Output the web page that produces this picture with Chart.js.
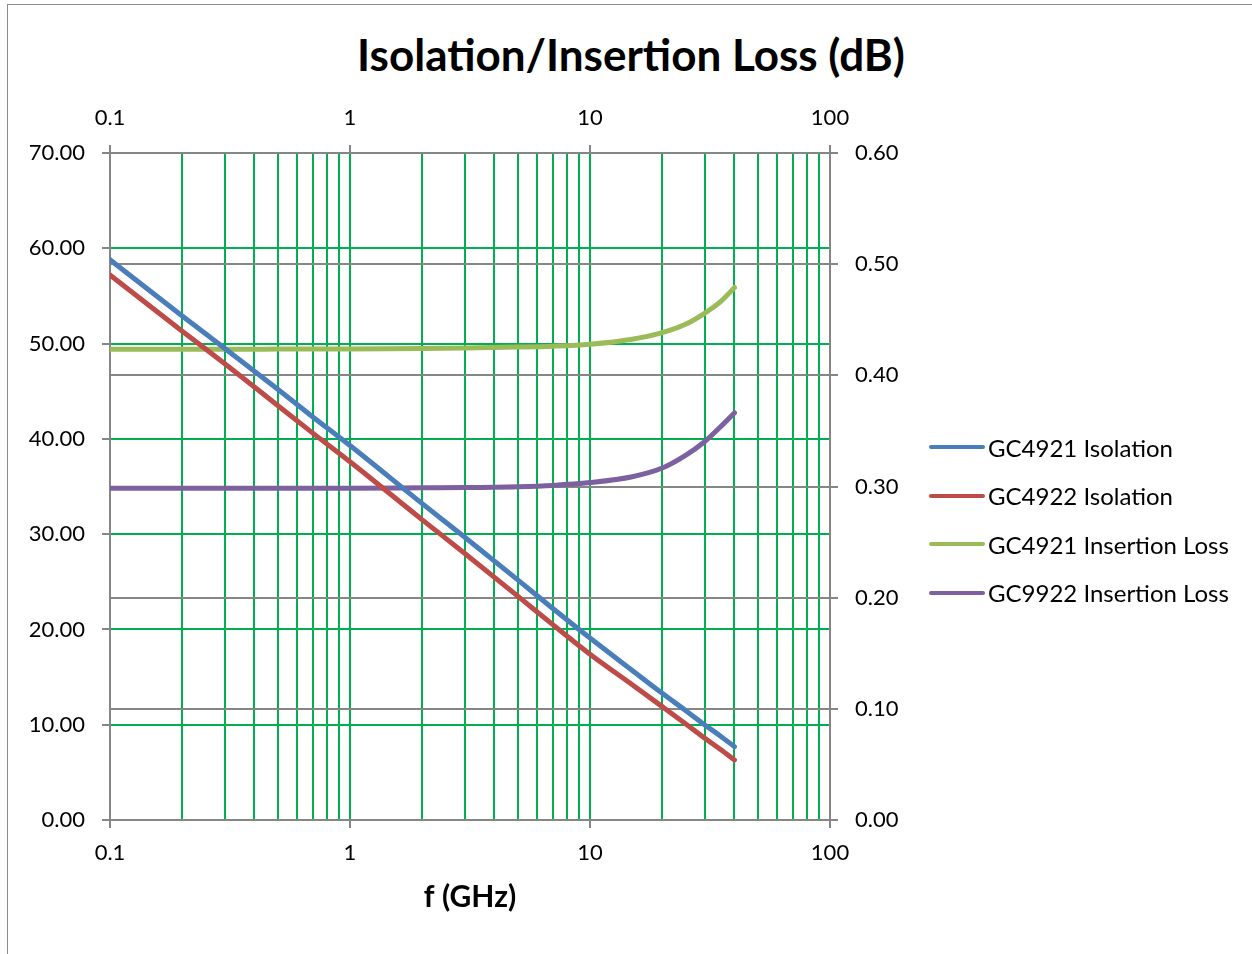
<!DOCTYPE html>
<html>
<head>
<meta charset="utf-8">
<title>Isolation/Insertion Loss (dB)</title>
<script src="https://cdn.jsdelivr.net/npm/chart.js@4.4.1/dist/chart.umd.min.js"></script>
<style>
  html, body { margin: 0; padding: 0; background: #fff; }
  #wrap { position: relative; width: 1252px; height: 954px; overflow: hidden; font-family: Lato, "Open Sans", sans-serif; }
  #frame { position: absolute; left: 7px; top: 4px; width: 1300px; height: 1000px; border: 1.5px solid #8c8c8c; }
  #title { position: absolute; left: 0; width: 1262px; top: 27px; text-align: center; font-weight: bold; font-size: 44px; line-height: 54px; color: #000; }
  #chartBox { position: absolute; left: 0; top: 0; width: 1252px; height: 954px; }
  #legend { position: absolute; left: 929px; top: 423px; }
  .lg-item { display: flex; align-items: center; height: 48.5px; font-size: 24px; color: #000; }
  .lg-line { width: 56px; height: 4px; border-radius: 2px; margin-right: 3px; }
</style>
</head>
<body>
<div id="wrap">
  <div id="frame"></div>
  <div id="title">Isolation/Insertion Loss (dB)</div>
  <div id="chartBox"><canvas id="lossChart"></canvas></div>
  <div id="legend"></div>
</div>
<script>
const freq = [0.1, 0.2, 0.3, 0.5, 0.7, 1, 2, 3, 5, 7, 10, 15, 20, 25, 30, 35, 40];

// isolation, dB (left axis)
const gc4921Isolation = [58.8, 52.9, 49.5, 45.2, 42.3, 39.3, 33.2, 29.7, 25.2, 22.2, 19.1, 15.7, 13.3, 11.5, 10.0, 8.8, 7.7];
const gc4922Isolation = [57.2, 51.3, 47.9, 43.5, 40.6, 37.6, 31.5, 28.0, 23.5, 20.5, 17.4, 14.2, 11.9, 10.1, 8.6, 7.4, 6.3];

// insertion loss, dB (right axis)
const gc4921InsLoss = [0.4235, 0.4235, 0.4235, 0.4236, 0.4237, 0.4238, 0.4242, 0.4246, 0.4254, 0.4262, 0.428, 0.4325, 0.4384, 0.4459, 0.4558, 0.4663, 0.479];
const gc9922InsLoss = [0.2985, 0.2985, 0.2985, 0.2985, 0.2985, 0.2985, 0.2988, 0.299, 0.2998, 0.301, 0.3035, 0.3088, 0.3166, 0.328, 0.3403, 0.3538, 0.3664];

const seriesNames = ['GC4921 Isolation', 'GC4922 Isolation', 'GC4921 Insertion Loss', 'GC9922 Insertion Loss'];
const seriesColors = ['#4A7EBB', '#BE4B48', '#9BBB59', '#7D60A0'];

// axis ticks
const xTicks = [0.1, 0.2, 0.3, 0.4, 0.5, 0.6, 0.7, 0.8, 0.9,
                1, 2, 3, 4, 5, 6, 7, 8, 9,
                10, 20, 30, 40, 50, 60, 70, 80, 90, 100];
const xLabels = [0.1, 1, 10, 100];
const yLeftTicks = [0, 10, 20, 30, 40, 50, 60, 70];
const yRightTicks = [0, 0.1, 0.2, 0.3, 0.4, 0.5, 0.6];

const GRAY = '#868686';
const GREEN = '#00B050';
const tickFont = { family: 'Lato', size: 22 };

function pairs(ys) {
    return freq.map((f, i) => ({ x: f, y: ys[i] }));
}

function useTicks(list) {
    return scale => { scale.ticks = list.map(v => ({ value: v })); };
}

const seriesData = [gc4921Isolation, gc4922Isolation, gc4921InsLoss, gc9922InsLoss];
const seriesAxis = ['y', 'y', 'y1', 'y1'];

const datasets = seriesData.map((ys, i) => ({
    label: seriesNames[i],
    data: pairs(ys),
    xAxisID: 'x',
    yAxisID: seriesAxis[i],
    borderColor: seriesColors[i],
    backgroundColor: seriesColors[i],
    borderWidth: 5,
    borderCapStyle: 'round',
    pointRadius: 0,
    cubicInterpolationMode: 'monotone',
    fill: false
}));

const isMajor = ctx => ctx.tick && xLabels.includes(ctx.tick.value);

new Chart(document.getElementById('lossChart'), {
    type: 'line',
    data: { datasets },
    options: {
        responsive: true,
        maintainAspectRatio: false,
        animation: false,
        layout: { padding: { left: 0, top: 93, right: 332, bottom: 39 } },
        plugins: {
            legend: { display: false },
            title: { display: false },
            tooltip: { enabled: false }
        },
        scales: {
            x: {
                type: 'logarithmic',
                position: 'bottom',
                min: 0.1,
                max: 100,
                afterBuildTicks: useTicks(xTicks),
                afterFit: s => { s.height = 95; },
                ticks: {
                    autoSkip: false,
                    maxRotation: 0,
                    padding: 12,
                    color: '#000',
                    font: tickFont,
                    callback: v => xLabels.includes(v) ? String(v) : ''
                },
                grid: {
                    color: GREEN,
                    lineWidth: 2,
                    tickLength: 8,
                    tickColor: ctx => isMajor(ctx) ? GRAY : 'rgba(0,0,0,0)'
                },
                border: { color: GRAY, width: 2 },
                title: {
                    display: true,
                    text: 'f (GHz)',
                    color: '#000',
                    padding: 0,
                    font: { family: 'Lato', size: 30, weight: 'bold' }
                }
            },
            x2: {
                type: 'logarithmic',
                position: 'top',
                min: 0.1,
                max: 100,
                afterBuildTicks: useTicks(xTicks),
                afterFit: s => { s.height = 60; },
                ticks: {
                    autoSkip: false,
                    maxRotation: 0,
                    padding: 14,
                    color: '#000',
                    font: tickFont,
                    callback: v => xLabels.includes(v) ? String(v) : ''
                },
                grid: {
                    drawOnChartArea: false,
                    tickLength: 8,
                    lineWidth: 2,
                    color: GRAY,
                    tickColor: ctx => isMajor(ctx) ? GRAY : 'rgba(0,0,0,0)'
                },
                border: { color: GRAY, width: 2 }
            },
            y: {
                type: 'linear',
                position: 'left',
                min: 0,
                max: 70,
                afterBuildTicks: useTicks(yLeftTicks),
                afterFit: s => { s.width = 110; },
                ticks: {
                    padding: 17,
                    color: '#000',
                    font: tickFont,
                    callback: v => v.toFixed(2)
                },
                grid: { color: GREEN, lineWidth: 2, tickLength: 8, tickColor: GRAY },
                border: { color: GRAY, width: 2 }
            },
            y1: {
                type: 'linear',
                position: 'right',
                min: 0,
                max: 0.6,
                afterBuildTicks: useTicks(yRightTicks),
                afterFit: s => { s.width = 90; },
                ticks: {
                    padding: 17,
                    color: '#000',
                    font: tickFont,
                    callback: v => v.toFixed(2)
                },
                grid: { color: GRAY, lineWidth: 2, tickLength: 8, tickColor: GRAY },
                border: { color: GRAY, width: 2 }
            }
        }
    }
});

// legend on the right, as in the original sheet
const legend = document.getElementById('legend');
seriesNames.forEach((name, i) => {
    const item = document.createElement('div');
    item.className = 'lg-item';
    const line = document.createElement('span');
    line.className = 'lg-line';
    line.style.background = seriesColors[i];
    const txt = document.createElement('span');
    txt.textContent = name;
    item.appendChild(line);
    item.appendChild(txt);
    legend.appendChild(item);
});
</script>
</body>
</html>
